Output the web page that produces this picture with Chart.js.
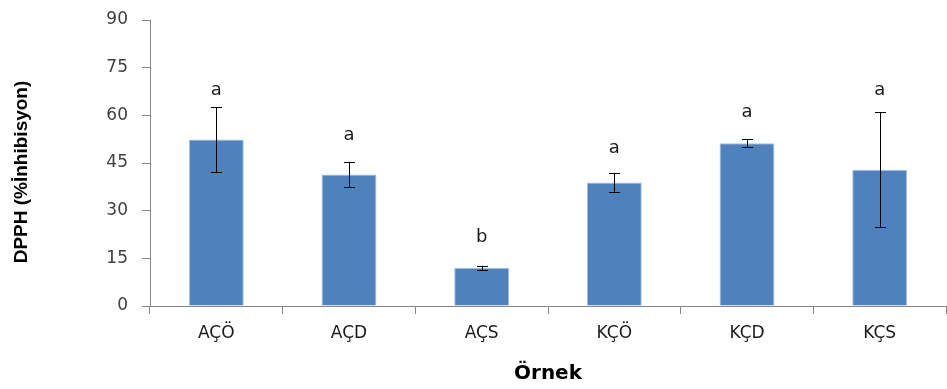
<!DOCTYPE html>
<html>
<head>
<meta charset="utf-8">
<script src="https://cdn.jsdelivr.net/npm/chart.js@4.4.1/dist/chart.umd.min.js"></script>
<style>
  html, body { margin: 0; padding: 0; background: #fff; }
  #wrap { width: 947px; height: 389px; position: relative; }
</style>
</head>
<body>
<div id="wrap"><canvas id="c" width="947" height="389"></canvas></div>
<script>
// ---- data ----
const categories = ["AÇÖ", "AÇD", "AÇS", "KÇÖ", "KÇD", "KÇS"];
const dpphValues = [52.4, 41.4, 12.0, 38.9, 51.2, 42.9];
const errorValues = [10.2, 4.0, 0.7, 2.9, 1.3, 18.0];
const groupLetters = ["a", "a", "b", "a", "a", "a"];
const letterHeights = [68.0, 53.8, 21.7, 49.7, 61.0, 68.0];
const yTicks = [0, 15, 30, 45, 60, 75, 90];
const yTitle = 'DPPH (%İnhibisyon)';

const errorBarPlugin = {
  id: 'errorBars',
  afterDatasetsDraw(chart) {
    const ctx = chart.ctx;
    const x = chart.scales.x, y = chart.scales.y;
    ctx.save();
    ctx.strokeStyle = '#000000';
    ctx.lineWidth = 1;
    dpphValues.forEach((v, i) => {
      const cx = Math.round(x.getPixelForValue(i)) + 0.5;
      const yt = y.getPixelForValue(v + errorValues[i]);
      const yb = y.getPixelForValue(v - errorValues[i]);
      const cap = 5.5;
      ctx.beginPath();
      ctx.moveTo(cx, yt); ctx.lineTo(cx, yb);
      ctx.moveTo(cx - cap, Math.round(yt) + 0.5); ctx.lineTo(cx + cap, Math.round(yt) + 0.5);
      ctx.moveTo(cx - cap, Math.round(yb) + 0.5); ctx.lineTo(cx + cap, Math.round(yb) + 0.5);
      ctx.stroke();
    });
    ctx.fillStyle = '#1a1a1a';
    ctx.font = '18px "DejaVu Sans"';
    ctx.textAlign = 'center';
    ctx.textBaseline = 'middle';
    groupLetters.forEach((t, i) => {
      ctx.fillText(t, x.getPixelForValue(i), y.getPixelForValue(letterHeights[i]));
    });
    // y-axis title, slightly below the axis centre as in the original
    ctx.translate(22, (chart.chartArea.top + chart.chartArea.bottom) / 2 + 9);
    ctx.rotate(-Math.PI / 2);
    ctx.fillStyle = '#000';
    ctx.font = 'bold 19px "Liberation Sans"';
    ctx.fillText(yTitle, 0, 0);
    ctx.restore();
  }
};

new Chart(document.getElementById('c'), {
  type: 'bar',
  data: {
    labels: categories,
    datasets: [{
      data: dpphValues,
      backgroundColor: '#4F81BD',
      borderColor: '#A9C1E0',
      borderWidth: 1,
      categoryPercentage: 1.0,
      barPercentage: 0.414
    }]
  },
  options: {
    responsive: false,
    animation: false,
    devicePixelRatio: 1,
    layout: { padding: { top: 20, right: 1, left: 0, bottom: 0 } },
    plugins: { legend: { display: false }, tooltip: { enabled: false } },
    scales: {
      x: {
        offset: true,
        grid: { offset: true, drawOnChartArea: false, drawTicks: true, tickLength: 8, color: '#868686' },
        border: { color: '#868686', width: 1 },
        ticks: { color: '#1a1a1a', font: { family: 'DejaVu Sans', size: 17 }, padding: 9, maxRotation: 0 },
        title: { display: true, text: 'Örnek', color: '#000', font: { family: 'DejaVu Sans', size: 20, weight: 'bold' }, padding: { top: 8, bottom: 3 } },
        afterFit(scale) { scale.height = 83; scale.paddingLeft = 0; scale.paddingRight = 0; }
      },
      y: {
        min: 0, max: 90,
        afterBuildTicks(scale) { scale.ticks = yTicks.map(v => ({ value: v })); },
        grid: { drawOnChartArea: false, drawTicks: true, tickLength: 8, color: '#868686' },
        border: { color: '#868686', width: 1 },
        ticks: { color: '#404040', font: { family: 'DejaVu Sans', size: 17 }, padding: 14 },
        title: { display: false },
        afterFit(scale) { scale.width = 150; scale.paddingTop = 0; scale.paddingBottom = 0; }
      }
    }
  },
  plugins: [errorBarPlugin]
});
</script>
</body>
</html>
